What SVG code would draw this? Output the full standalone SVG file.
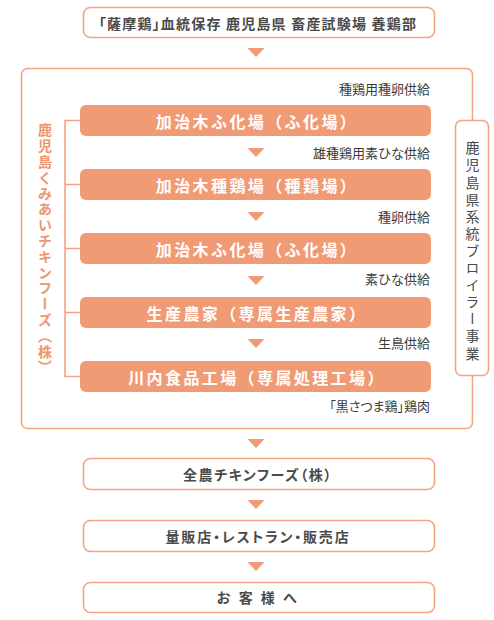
<svg xmlns="http://www.w3.org/2000/svg" width="494" height="620" viewBox="0 0 494 620">
<style>
text{font-family:"Noto Sans CJK JP","Noto Sans",sans-serif;}
.ob{fill:#fff;stroke:#F2A583;stroke-width:1.6;}
.fb{fill:#F09B76;}
.wt{fill:#fff;font-size:16px;font-weight:bold;letter-spacing:2.4px;text-anchor:middle;}
.dt{fill:#4a4a4a;font-size:14px;font-weight:bold;text-anchor:middle;}
.lb{fill:#3c3c3c;font-size:13px;text-anchor:end;}
.pa{font-feature-settings:"palt";}
.arr{fill:#F09B76;}
.ln{fill:none;stroke:#F2A583;stroke-width:1.6;}
.vt{writing-mode:vertical-rl;font-size:14px;}
</style>
<g id="connectors">
<polygon class="arr" points="247.5,48 264.5,48 256,57"/>
<polygon class="arr" points="247.5,148 264.5,148 256,157"/>
<polygon class="arr" points="247.5,212 264.5,212 256,221"/>
<polygon class="arr" points="247.5,276 264.5,276 256,285"/>
<polygon class="arr" points="247.5,339 264.5,339 256,348"/>
<polygon class="arr" points="247.5,439 264.5,439 256,448"/>
<polygon class="arr" points="247.5,500 264.5,500 256,509"/>
<polygon class="arr" points="247.5,562 264.5,562 256,571"/>
<path class="ln" d="M80,120.5 H65 V376.5 H80 M65,184.5 H80 M65,248.5 H80 M65,312.5 H80"/>
</g>
<g id="container">
<rect class="ln" x="21.5" y="68.5" width="451" height="360" rx="6"/>
</g>
<g id="origin">
<rect class="ob" x="83.5" y="7.5" width="351" height="30" rx="7"/>
<text class="dt pa" x="258" y="28.5" style="letter-spacing:1.2px">「薩摩鶏」血統保存 鹿児島県 畜産試験場 養鶏部</text>
</g>
<g id="label1"><text class="lb" x="430" y="94">種鶏用種卵供給</text></g>
<g id="node1">
<rect class="fb" x="80" y="105" width="351" height="31" rx="6"/>
<text class="wt" x="257" y="127.5">加治木ふ化場（ふ化場）</text>
</g>
<g id="label2"><text class="lb" x="430" y="157.5">雄種鶏用素ひな供給</text></g>
<g id="node2">
<rect class="fb" x="80" y="169" width="351" height="31" rx="6"/>
<text class="wt" x="257" y="191.5">加治木種鶏場（種鶏場）</text>
</g>
<g id="label3"><text class="lb" x="430" y="222">種卵供給</text></g>
<g id="node3">
<rect class="fb" x="80" y="233" width="351" height="31" rx="6"/>
<text class="wt" x="257" y="255.5">加治木ふ化場（ふ化場）</text>
</g>
<g id="label4"><text class="lb" x="430" y="284">素ひな供給</text></g>
<g id="node4">
<rect class="fb" x="80" y="297" width="351" height="31" rx="6"/>
<text class="wt" x="257" y="319.5">生産農家（専属生産農家）</text>
</g>
<g id="label5"><text class="lb" x="430" y="348">生鳥供給</text></g>
<g id="node5">
<rect class="fb" x="80" y="361" width="351" height="31" rx="6"/>
<text class="wt" x="257" y="383.5">川内食品工場（専属処理工場）</text>
</g>
<g id="label6"><text class="lb pa" x="430" y="411">「黒さつま鶏」鶏肉</text></g>
<g id="leftlabel">
<text class="vt" x="45" y="123" style="fill:#EE9670;font-weight:bold;letter-spacing:1.8px">鹿児島くみあいチキンフーズ（株）</text>
</g>
<g id="rightlabel">
<rect class="ob" x="455.5" y="120.5" width="33" height="255" rx="6"/>
<text class="vt" x="472.5" y="141" style="fill:#4a4a4a;letter-spacing:3.1px">鹿児島県系統ブロイラー事業</text>
</g>
<g id="node6">
<rect class="ob" x="83.5" y="458.5" width="351" height="31" rx="7"/>
<text class="dt pa" x="258" y="479.5" style="letter-spacing:1.6px">全農チキンフーズ（株）</text>
</g>
<g id="node7">
<rect class="ob" x="83.5" y="520.5" width="351" height="31" rx="7"/>
<text class="dt pa" x="258" y="541.5" style="letter-spacing:1.8px">量販店・レストラン・販売店</text>
</g>
<g id="node8">
<rect class="ob" x="83.5" y="582.5" width="351" height="30" rx="7"/>
<text class="dt" x="258" y="603" style="letter-spacing:2.5px">お 客 様 へ</text>
</g>
</svg>
